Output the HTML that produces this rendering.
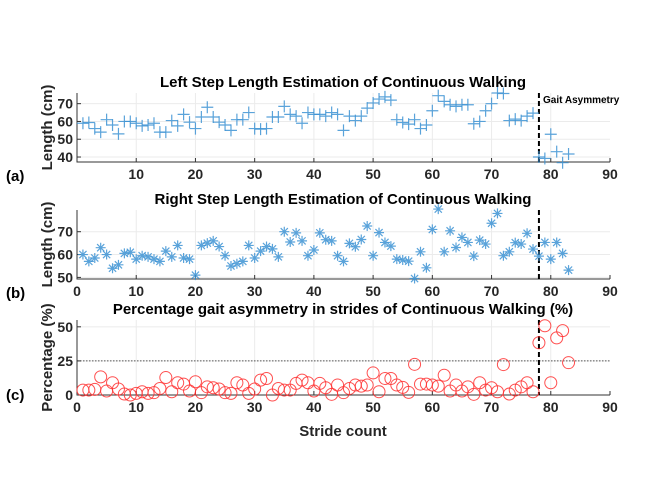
<!DOCTYPE html>
<html><head><meta charset="utf-8"><style>
html,body{margin:0;padding:0;background:#fff;}
svg{display:block;font-family:"Liberation Sans",sans-serif;font-weight:bold;}
</style></head><body>
<svg id="chart" width="664" height="491" viewBox="0 0 664 491" xmlns="http://www.w3.org/2000/svg"></svg>
<script>
const leftLen=[59,59.4,56,54,61,58,53,60,60,59,57.5,58,59,54,54,60.5,57.5,64,59.6,56,62.5,68,62.5,59.6,58,55,61,61,65,56,55.7,56,62.5,62.5,68.5,64,63,59,65,64,64,63,65,64,55,63,60.5,63,67.5,70.4,72.6,73.8,72,61,59.4,58.5,61,56,58,66,74.5,71.3,69.4,68.5,69.4,69.4,58.7,60,66,70,76,75.7,60.5,61.3,60.5,63,64.7,40,39.2,52.8,43,36.8,41.7];
const rightLen=[60,57,58.5,63,60,54,55.5,60.5,61,58,59.5,59,58,57,61.5,59,64,58.5,58,51,64,65,66,63.5,59.5,55,56,57,64,58.5,61.5,63.5,62.5,59,70,65.5,69.5,66,59.5,62,69.5,66.5,66,59.5,57,64.9,63.4,66.6,72.5,59.5,69.6,65.3,63.7,58,57.6,57.1,49.5,61.2,54.2,71,79.9,61.2,70.4,63.1,67.5,65.3,59.3,66.3,64.6,73.7,78,59.5,61.2,65.2,64.6,69.3,62.4,59.3,65.3,58,65.3,60.5,53.2];
const asymPct=[3.6,3.6,4.1,13.3,2.9,9,4.4,0.7,0,1.2,2.4,1.2,1.7,4.8,12.8,2.4,9,8,2.9,9.7,1.7,6,5.3,4.4,1.7,1.2,9,7.3,1.2,4.4,10.9,12.1,0,4.8,3.6,3.6,8.5,10.9,9,2.9,8.5,5.3,0.5,7.3,1.7,4.8,7.3,6.5,7.3,16.2,2.4,12.1,12.1,7.3,5.6,1.9,22.5,8,8,7.3,6.5,14.5,2.9,7.3,2.9,6,0.5,9,3.6,5.3,2.4,22.3,0.7,3.6,6,9,2.4,38.3,50.8,9,41.9,47.2,23.7];
const xTicks=[0,10,20,30,40,50,60,70,80,90];
const asymLine=78;
const threshold=25;
const NS="http://www.w3.org/2000/svg";
const svg=document.getElementById('chart');
function el(t,a,p){const e=document.createElementNS(NS,t);for(const k in a)e.setAttribute(k,a[k]);(p||svg).appendChild(e);return e;}
const X0=77,X1=610;
const sx=v=>X0+(v/90)*(X1-X0);
const panels=[
 {name:'left',top:93,bot:162,ymin:37.2,ymax:76,yt:[40,50,60,70],x0lab:false,title:'Left Step Length Estimation of Continuous Walking',ylab:'Length (cm)',tag:'(a)',tagY:181,data:leftLen,mark:'plus'},
 {name:'right',top:210,bot:279,ymin:49.3,ymax:79.5,yt:[50,60,70],x0lab:true,title:'Right Step Length Estimation of Continuous Walking',ylab:'Length (cm)',tag:'(b)',tagY:298,data:rightLen,mark:'star'},
 {name:'asym',top:320,bot:395,ymin:0,ymax:55,yt:[0,25,50],x0lab:true,title:'Percentage gait asymmetry in strides of Continuous Walking (%)',ylab:'Percentage (%)',tag:'(c)',tagY:400,data:asymPct,mark:'circle'}
];
panels.forEach(p=>{
 const sy=v=>p.bot-(v-p.ymin)/(p.ymax-p.ymin)*(p.bot-p.top);
 const g=el('g',{});
 
 
 xTicks.forEach(t=>{if(t>0&&t<90){const l=el('line',{x1:sx(t),x2:sx(t),y1:p.top,y2:p.bot,stroke:'#ebebeb','stroke-width':1},g);}});
 p.yt.forEach(t=>{const l=el('line',{x1:X0,x2:X1,y1:sy(t),y2:sy(t),stroke:'#ebebeb','stroke-width':1},g);});
 if(p.mark==='circle'){const th=el('line',{x1:X0,x2:X1,y1:sy(threshold),y2:sy(threshold),stroke:'#555','stroke-width':1,'stroke-dasharray':'1.5,1.5'},g);}
 const ax=el('path',{d:`M${X0},${p.top}V${p.bot}H${X1}`,fill:'none',stroke:'#333','stroke-width':1},g);
 
 xTicks.forEach(t=>{
  el('line',{x1:sx(t),x2:sx(t),y1:p.bot,y2:p.bot-4,stroke:'#333'},g);
  if(t===0&&!p.x0lab)return;
  const tx=el('text',{x:sx(t),y:p.bot+17,'text-anchor':'middle','font-size':14,fill:'#262626'},g);tx.textContent=t;
  
 });
 p.yt.forEach(t=>{
  el('line',{x1:X0,x2:X0+4,y1:sy(t),y2:sy(t),stroke:'#333'},g);
  const tx=el('text',{x:X0-4,y:sy(t)+5,'text-anchor':'end','font-size':14,fill:'#262626'},g);tx.textContent=t;
  
 });
 const ti=el('text',{x:343,y:p.top-6,'text-anchor':'middle','font-size':15,fill:'#000'},g);ti.textContent=p.title;
 
 const cy=(p.top+p.bot)/2;
 const yl=el('text',{x:0,y:0,'text-anchor':'middle','font-size':15,fill:'#262626',transform:`translate(52,${cy}) rotate(-90)`},g);yl.textContent=p.ylab;
 
 const tg=el('text',{x:6,y:p.tagY,'font-size':15,fill:'#000'},g);tg.textContent=p.tag;
 
 const dl=el('line',{x1:sx(asymLine),x2:sx(asymLine),y1:p.top,y2:p.bot,stroke:'#000','stroke-width':2,'stroke-dasharray':'5,3'},g);
 
 p.data.forEach((v,i)=>{
  const x=sx(i+1),y=sy(v);let m;
  if(p.mark==='plus'){m=el('path',{d:`M${x-6},${y}H${x+6}M${x},${y-6}V${y+6}`,stroke:'#3d93d4','stroke-width':1.2,'stroke-opacity':0.85},g);}
  else if(p.mark==='star'){m=el('path',{d:`M${x-5},${y}H${x+5}M${x},${y-5}V${y+5}M${x-3.6},${y-3.6}L${x+3.6},${y+3.6}M${x-3.6},${y+3.6}L${x+3.6},${y-3.6}`,stroke:'#3d93d4','stroke-width':1.2,'stroke-opacity':0.85},g);}
  else{m=el('circle',{cx:x,cy:y,r:6,fill:'none',stroke:'#ff3030','stroke-width':1,'stroke-opacity':0.85},g);}
  
  
 });
});
const ga=el('text',{x:543,y:103,'font-size':10,fill:'#000'});ga.textContent='Gait Asymmetry';

const xl=el('text',{x:343,y:436,'text-anchor':'middle','font-size':15,fill:'#262626'});xl.textContent='Stride count';

</script>
</body></html>
